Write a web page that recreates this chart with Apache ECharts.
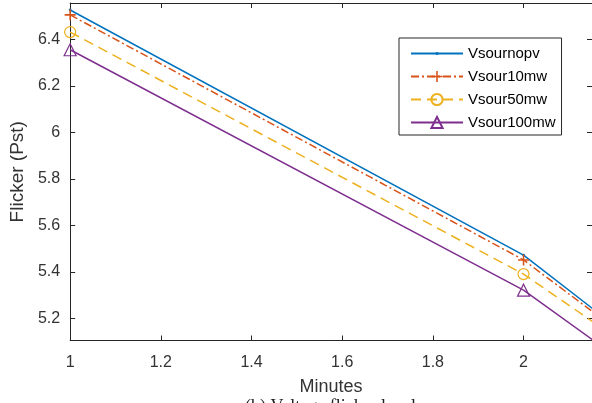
<!DOCTYPE html>
<html>
<head>
<meta charset="utf-8">
<script src="https://cdn.jsdelivr.net/npm/echarts@6/dist/echarts.min.js"></script>
<style>
html,body{margin:0;padding:0;background:#fff;}
#c{width:592px;height:403px;}
</style>
</head>
<body>
<div id="c"></div>
<script>
// Data
var minutes = [1, 2, 3];
var vsournopv = [6.526, 5.472, 3.96];
var vsour10mw = [6.505, 5.451, 3.99];
var vsour50mw = [6.431, 5.390, 4.05];
var vsour100mw = [6.355, 5.321, 3.92];
var seriesNames = ['Vsournopv', 'Vsour10mw', 'Vsour50mw', 'Vsour100mw'];
var xTicks = [1, 1.2, 1.4, 1.6, 1.8, 2];
var yTicks = [5.2, 5.4, 5.6, 5.8, 6, 6.2, 6.4];

var FONT = '"Liberation Sans", Arial, Helvetica, sans-serif';
var TXT = '#262626';
var C = ['#0072BD', '#D95319', '#EDB120', '#7E2F8E'];
var PLUS = 'path://M4.3,0 H5.7 V4.3 H10 V5.7 H5.7 V10 H4.3 V5.7 H0 V4.3 H4.3 Z';
var DOT = 'path://M0,0 L0,0 Z M10,10 L10,10 Z M3.6,5 A1.4,1.4 0 1 1 6.4,5 A1.4,1.4 0 1 1 3.6,5 Z';

function pairs(v) { return minutes.map(function (m, i) { return [m, v[i]]; }); }

var chart = echarts.init(document.getElementById('c'), null, {renderer: 'canvas'});
var xCommon = {type: 'value', min: 1, max: 2.151,
  axisLine: {show: true, onZero: false, lineStyle: {color: TXT, width: 1}},
  axisTick: {show: true, inside: true, length: 5, customValues: xTicks, lineStyle: {color: TXT}},
  splitLine: {show: false}};
var yCommon = {type: 'value', min: 5.1045, max: 6.556,
  axisLine: {show: true, onZero: false, lineStyle: {color: TXT, width: 1}},
  axisTick: {show: true, inside: true, length: 5, customValues: yTicks, lineStyle: {color: TXT}},
  splitLine: {show: false}};

var option = {
  animation: false,
  backgroundColor: '#fff',
  grid: {left: 67, top: 3, width: 526, height: 337.5, containLabel: false},
  xAxis: [
    Object.assign({}, xCommon, {position: 'bottom',
      name: 'Minutes', nameLocation: 'middle', nameGap: 38,
      nameTextStyle: {fontFamily: FONT, fontSize: 18, color: '#333'},
      axisLabel: {show: true, customValues: xTicks, margin: 14, fontFamily: FONT, fontSize: 16, color: '#333',
        formatter: function (v) { return String(Math.round(v * 10) / 10); }}}),
    Object.assign({}, xCommon, {position: 'top', axisLabel: {show: false}})
  ],
  yAxis: [
    Object.assign({}, yCommon, {position: 'left',
      name: 'Flicker (Pst)', nameLocation: 'middle', nameGap: 39,
      nameTextStyle: {fontFamily: FONT, fontSize: 19, color: '#333'},
      axisLabel: {show: true, customValues: yTicks, margin: 10, fontFamily: FONT, fontSize: 16, color: '#333',
        formatter: function (v) { return String(Math.round(v * 10) / 10); }}}),
    Object.assign({}, yCommon, {position: 'right', axisLabel: {show: false}})
  ],
  legend: {
    orient: 'vertical', left: 399, top: 38,
    data: seriesNames,
    itemWidth: 52, itemHeight: 14, itemGap: 8,
    padding: [8, 6, 5, 11],
    borderColor: TXT, borderWidth: 1, backgroundColor: '#fff',
    textStyle: {fontFamily: FONT, fontSize: 15, color: '#000'}
  },
  graphic: [{
    type: 'text', left: 245, top: 398,
    style: {text: '(b) Voltage flicker level', font: '18px "Liberation Serif", "Times New Roman", serif', fill: '#222'}
  }],
  series: [
    {name: seriesNames[0], type: 'line', data: pairs(vsournopv), clip: true,
      symbol: DOT, symbolSize: 10,
      lineStyle: {color: C[0], width: 1.5, type: 'solid'},
      itemStyle: {color: C[0]}},
    {name: seriesNames[1], type: 'line', data: pairs(vsour10mw), clip: true,
      symbol: PLUS, symbolSize: 11,
      lineStyle: {color: C[1], width: 1.5, type: [8, 3, 2, 3]},
      itemStyle: {color: C[1]}},
    {name: seriesNames[2], type: 'line', data: pairs(vsour50mw), clip: true,
      symbol: 'circle', symbolSize: 11,
      lineStyle: {color: C[2], width: 1.5, type: [10, 6]},
      itemStyle: {color: 'rgba(255,255,255,0)', borderColor: C[2], borderWidth: 1.2}},
    {name: seriesNames[3], type: 'line', data: pairs(vsour100mw), clip: true,
      symbol: 'triangle', symbolSize: 12,
      lineStyle: {color: C[3], width: 1.5, type: 'solid'},
      itemStyle: {color: 'rgba(255,255,255,0)', borderColor: C[3], borderWidth: 1.2}}
  ]
};
chart.setOption(option);
</script>
</body>
</html>
